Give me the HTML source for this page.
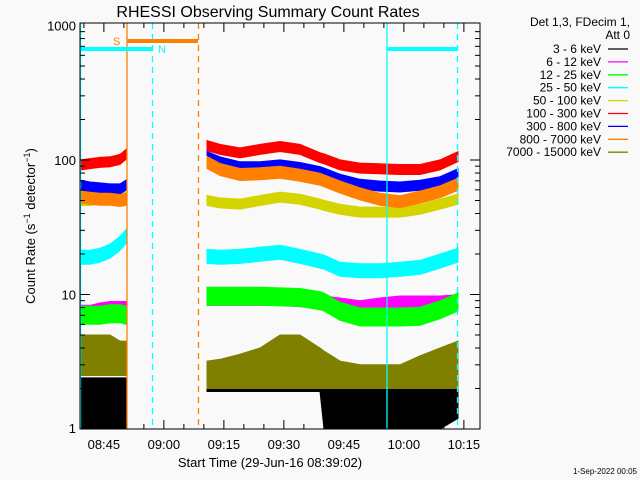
<!DOCTYPE html>
<html><head><meta charset="utf-8">
<style>
body{margin:0;background:#f9f9f9;}
svg{display:block;font-family:"Liberation Sans",sans-serif;}
</style></head>
<body>
<svg id="chart" width="640" height="480" viewBox="0 0 640 480">
<rect x="0" y="0" width="640" height="480" fill="#f9f9f9"/>
<text x="268" y="17" font-size="16" text-anchor="middle" fill="#000">RHESSI Observing Summary Count Rates</text>
<g id="marks"></g>
<g id="axes"></g>
<text transform="translate(35,226) rotate(-90)" font-size="13" text-anchor="middle">Count Rate (s<tspan dy="-5" font-size="9">−1</tspan><tspan dy="5"> detector</tspan><tspan dy="-5" font-size="9">−1</tspan><tspan dy="5">)</tspan></text>
<text x="270" y="467" font-size="13" text-anchor="middle">Start Time (29-Jun-16 08:39:02)</text>
<text x="637" y="474" font-size="8" text-anchor="end">1-Sep-2022 00:05</text>
<g id="legend"></g>
</svg>
<script>
// time in minutes after 08:39:02; null = data gap
const times = [0.25,2.5,5,7.5,10,11.5,null,31.75,35,40,45,50,55,60,61,65,70,75,80,85,90,94.5];
const rate_3_6_lo = [1,1,1,1,1,1,null,1.9,1.9,1.9,1.9,1.9,1.9,1.9,1,1,1,1,1,1,1,1.2];
const rate_3_6_hi = [2.4,2.4,2.4,2.4,2.4,2.4,null,2.9,2.9,3,3.8,4,3.8,3.5,3,3,2.9,2.9,2.9,2.9,2.9,3];
const rate_6_12 = [7.5,7.5,7.8,8,8,8,null,9.2,9.2,9.2,9.2,9.2,9,8.9,8.8,8.5,8.1,8.5,8.8,8.8,8.8,9];
const rate_12_25 = [7,7,7,7.2,7.2,7,null,9.7,9.7,9.7,9.7,9.6,9.5,9,8.8,7.5,6.8,6.8,6.8,6.9,7.7,8.8];
const rate_25_50 = [18.9,18.9,19.6,21,24,27,null,19.2,18.9,19.2,19.9,20.6,19.2,17.7,17.4,15.4,15,15,15.4,15.9,17.7,19.6];
const rate_50_100 = [50,50,51,51,52,53,null,50,48,47,50,53,51,47,46,43,41,41,41,43,47,51];
const rate_100_300 = [92,94,96,97,101,110,null,128,120,113,120,126,120,104,102,92,87,86,85,85,92,106];
const rate_300_800 = [65,63,62,61,61,65,null,106,97,89,89,92,88,82,80,72,66,64,63,65,69,79];
const rate_800_7000 = [53,52,51,51,50,51,null,96,85,78,79,81,77,72,70,63,56,51,49,53,58,66];
const rate_7000_15000_lo = [2.5,2.5,2.5,2.5,2.5,2.5,null,2,2,2,2,2,2,2,2,2,2,2,2,2,2,2];
const rate_7000_15000_hi = [5,5,5,5,4.5,4.5,null,3.2,3.3,3.6,4,5,5,4,3.8,3.2,3,3,3,3.5,4,4.5];
const yTicks = [1,10,100,1000];
const yTickLabels = ["1","10","100","1000"];
const xTickMinutes = [5.97,20.97,35.97,50.97,65.97,80.97,95.97];
const xTickLabels = ["08:45","09:00","09:15","09:30","09:45","10:00","10:15"];

const X0=80,X1=480,Y0=429,Y1=23,DEC=134.5;
const xs=t=>X0+t*4;
const ys=v=>Y0-DEC*Math.log10(v);
const NS="http://www.w3.org/2000/svg";
function mk(tag,attrs,parent){const e=document.createElementNS(NS,tag);for(const k in attrs)e.setAttribute(k,attrs[k]);parent.appendChild(e);return e;}
const marks=document.getElementById('marks');
const axes=document.getElementById('axes');

function segments(){const segs=[];let cur=[];times.forEach((t,i)=>{if(t===null){if(cur.length)segs.push(cur);cur=[];}else cur.push(i);});if(cur.length)segs.push(cur);return segs;}
function bandLoHi(lo,hi,color,name){
  segments().forEach(seg=>{
    let d='';
    seg.forEach((i,k)=>{d+=(k?'L':'M')+xs(times[i]).toFixed(1)+','+ys(hi[i]).toFixed(1);});
    for(let k=seg.length-1;k>=0;k--){const i=seg[k];d+='L'+xs(times[i]).toFixed(1)+','+Math.min(Y0,ys(lo[i])).toFixed(1);}
    const p=mk('path',{d:d+'Z',fill:color,stroke:color,'stroke-width':1},marks);
    
    
  });
}
function band(vals,color,halfPx,name){
  const f=Math.pow(10,halfPx/DEC);
  bandLoHi(vals.map(v=>v===null?null:v/f),vals.map(v=>v===null?null:v*f),color,name);
}
bandLoHi(rate_3_6_lo,rate_3_6_hi,'#000000','series-3-6-kev');
band(rate_6_12,'#ff00ff',6,'series-6-12-kev');
band(rate_12_25,'#00ff00',9,'series-12-25-kev');
band(rate_25_50,'#00ffff',7,'series-25-50-kev');
band(rate_50_100,'#d4d400',5,'series-50-100-kev');
band(rate_100_300,'#ff0000',5,'series-100-300-kev');
band(rate_300_800,'#0000ff',5,'series-300-800-kev');
band(rate_800_7000,'#ff8000',6,'series-800-7000-kev');
bandLoHi(rate_7000_15000_lo,rate_7000_15000_hi,'#808000','series-7000-15000-kev');

function vline(x,color,dash,name){const l=mk('line',{x1:x,x2:x,y1:Y1,y2:Y0,stroke:color,'stroke-width':1.3},axes);if(dash)l.setAttribute('stroke-dasharray','6,5');

}
vline(80.5,'#00ffff',false,'eclipse-start-line');
vline(127,'#ff8000',false,'saa-start-line');
vline(152.5,'#00ffff',true,'night-end-line');
vline(198.5,'#ff8000',true,'saa-end-line');
vline(387,'#00ffff',false,'night-start-line');
vline(457.5,'#00ffff',true,'night-end-line-2');
function hbar(x1,x2,y,color,name){const l=mk('line',{x1:x1,x2:x2,y1:y,y2:y,stroke:color,'stroke-width':4},axes);

}
hbar(127,198,41,'#ff8000','saa-bar');
hbar(80,152,49,'#00ffff','night-bar');
hbar(387,457,49,'#00ffff','night-bar-2');
const sl=mk('text',{x:113,y:45,'font-size':11,fill:'#ff8000'},axes);sl.textContent='S';


const nl=mk('text',{x:158,y:53,'font-size':11,fill:'#00ffff'},axes);nl.textContent='N';



const fr=mk('rect',{x:X0,y:Y1,width:X1-X0,height:Y0-Y1,fill:'none',stroke:'#000','stroke-width':1},axes);


for(let m=0.97;m<=100;m+=5){const x=xs(m);const major=Math.abs(((m-5.97)%15+15)%15)<0.01;const L=major?9:5;
  mk('line',{x1:x,x2:x,y1:Y0,y2:Y0-L,stroke:'#000'},axes);mk('line',{x1:x,x2:x,y1:Y1,y2:Y1+L,stroke:'#000'},axes);}
xTickMinutes.forEach((m,i)=>{const t=mk('text',{x:xs(m),y:449,'font-size':13,'text-anchor':'middle'},axes);t.textContent=xTickLabels[i];

});
for(let d=0;d<3;d++)for(let k=1;k<10;k++){const y=ys(k*Math.pow(10,d));const L=k===1?10:5;
  mk('line',{x1:X0,x2:X0+L,y1:y,y2:y,stroke:'#000'},axes);mk('line',{x1:X1,x2:X1-L,y1:y,y2:y,stroke:'#000'},axes);}
yTicks.forEach((v,i)=>{const t=mk('text',{x:76,y:Math.min(ys(v)+5,433),'font-size':13,'text-anchor':'end'},axes);t.textContent=yTickLabels[i];

});

const leg=document.getElementById('legend');
const legendLabels=["3 - 6 keV","6 - 12 keV","12 - 25 keV","25 - 50 keV","50 - 100 keV","100 - 300 keV","300 - 800 keV","800 - 7000 keV","7000 - 15000 keV"];
const legendColors=['#000000','#ff00ff','#00ff00','#00ffff','#d4d400','#ff0000','#0000ff','#ff8000','#808000'];
const h1=mk('text',{x:630,y:26,'font-size':12,'text-anchor':'end'},leg);h1.textContent='Det 1,3, FDecim 1,';


const h2=mk('text',{x:630,y:39,'font-size':12,'text-anchor':'end'},leg);h2.textContent='Att 0';


legendLabels.forEach((lab,i)=>{const y=49+i*12.9;
  const t=mk('text',{x:601,y:y+4,'font-size':12,'text-anchor':'end'},leg);t.textContent=lab;
  
  
  const l=mk('line',{x1:608,x2:628,y1:y,y2:y,stroke:legendColors[i],'stroke-width':1.3},leg);
  
  
});
</script>
</body></html>
